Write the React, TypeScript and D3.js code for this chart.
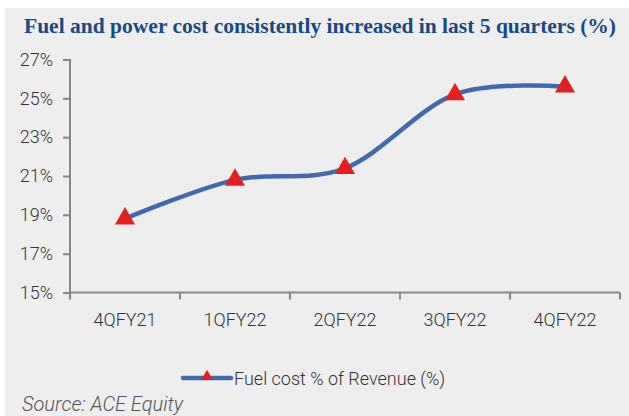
import React, { useRef, useEffect } from 'react';
import * as d3 from 'd3';

// chart data
const quarters = ['4QFY21', '1QFY22', '2QFY22', '3QFY22', '4QFY22'];
const fuelCostPct = [18.8, 20.8, 21.4, 25.2, 25.6];
const yTicks = [15, 17, 19, 21, 23, 25, 27];

const seriesName = 'Fuel cost % of Revenue (%)';
const title = 'Fuel and power cost consistently increased in last 5 quarters (%)';
const source = 'Source: ACE Equity';

const W = 629;
const H = 416;

const App = () => {
  const svgRef = useRef<SVGSVGElement | null>(null);

  useEffect(() => {
    if (!svgRef.current) return;
    const svg = d3.select(svgRef.current);
    svg.selectAll('*').remove();

    const margin = { left: 70, right: 9, top: 59.5, bottom: 123.5 };
    const plotW = W - margin.left - margin.right;
    const plotH = H - margin.top - margin.bottom;

    // background panel
    svg.append('rect')
      .attr('x', 5).attr('y', 8)
      .attr('width', W - 5).attr('height', H - 8)
      .attr('fill', '#eeeeee');

    // title
    svg.append('text')
      .attr('x', 24).attr('y', 33)
      .attr('fill', '#174a84')
      .attr('font-family', '"Liberation Serif", "DejaVu Serif", serif')
      .attr('font-weight', 'bold')
      .attr('font-size', '21px')
      .attr('textLength', 592)
      .attr('lengthAdjust', 'spacingAndGlyphs')
      .text(title);

    const x = d3.scaleBand<string>()
      .domain(quarters)
      .range([0, plotW]);

    const y = d3.scaleLinear()
      .domain([15, 27])
      .range([plotH, 0]);

    const g = svg.append('g')
      .attr('transform', `translate(${margin.left},${margin.top})`);

    // y axis
    const yAxis = g.append('g')
      .call(d3.axisLeft(y).tickValues(yTicks).tickSize(7).tickPadding(10).tickFormat(d => `${d}%`));
    yAxis.select('.domain').attr('stroke', '#888').attr('stroke-width', 2).attr('d', `M-7,0.5H0V${plotH}`);
    yAxis.selectAll('.tick line').attr('stroke', '#888').attr('stroke-width', 2);
    yAxis.selectAll('.tick text')
      .attr('fill', '#333')
      .attr('font-family', 'Roboto, sans-serif')
      .attr('font-weight', 300)
      .attr('font-size', '18px');

    // x axis
    const xAxis = g.append('g')
      .attr('transform', `translate(0,${plotH})`)
      .call(d3.axisBottom(x).tickSize(0).tickPadding(21));
    xAxis.select('.domain').attr('stroke', '#888').attr('stroke-width', 2).attr('d', `M0,0H${plotW}`);
    xAxis.selectAll('.tick text')
      .attr('fill', '#333')
      .attr('font-family', 'Roboto, sans-serif')
      .attr('font-weight', 300)
      .attr('font-size', '18px');
    // category boundary ticks
    g.append('g')
      .selectAll('line')
      .data(quarters.concat(['end']))
      .enter()
      .append('line')
      .attr('x1', (d, i) => i < quarters.length ? x(d)! : plotW)
      .attr('x2', (d, i) => i < quarters.length ? x(d)! : plotW)
      .attr('y1', plotH)
      .attr('y2', plotH + 7)
      .attr('stroke', '#888')
      .attr('stroke-width', 2);

    const cx = (d: string) => x(d)! + x.bandwidth() / 2;

    // smoothed line
    const line = d3.line<number>()
      .x((d, i) => cx(quarters[i]))
      .y(d => y(d))
      .curve(d3.curveCardinal.tension(0));

    g.append('path')
      .datum(fuelCostPct)
      .attr('d', line)
      .attr('fill', 'none')
      .attr('stroke', '#4169ad')
      .attr('stroke-width', 4.5)
      .attr('stroke-linecap', 'round');

    // triangle markers
    const tri = d3.symbol().type(d3.symbolTriangle).size(175);
    g.selectAll('.marker')
      .data(fuelCostPct)
      .enter()
      .append('path')
      .attr('class', 'marker')
      .attr('d', tri)
      .attr('transform', (d, i) => `translate(${cx(quarters[i])},${y(d)})`)
      .attr('fill', '#e3201f');

    // legend
    const lg = svg.append('g').attr('transform', 'translate(183,378)');
    lg.append('line')
      .attr('x1', 0).attr('x2', 48)
      .attr('y1', 0).attr('y2', 0)
      .attr('stroke', '#4169ad')
      .attr('stroke-width', 4.5)
      .attr('stroke-linecap', 'round');
    lg.append('path')
      .attr('d', d3.symbol().type(d3.symbolTriangle).size(60)())
      .attr('transform', 'translate(24,-1.5)')
      .attr('fill', '#e3201f');
    lg.append('text')
      .attr('x', 51).attr('y', 6.5)
      .attr('fill', '#333')
      .attr('font-family', 'Roboto, sans-serif')
      .attr('font-weight', 300)
      .attr('font-size', '18px')
      .text(seriesName);

    // source note
    svg.append('text')
      .attr('x', 22).attr('y', 411)
      .attr('fill', '#555')
      .attr('font-family', 'Roboto, sans-serif')
      .attr('font-weight', 300)
      .attr('font-style', 'italic')
      .attr('font-size', '20px')
      .text(source);
  }, []);

  return (
    <svg
      ref={svgRef}
      width={W}
      height={H}
      style={{ position: 'absolute', left: 0, top: 0, display: 'block' }}
    />
  );
};

export default App;
